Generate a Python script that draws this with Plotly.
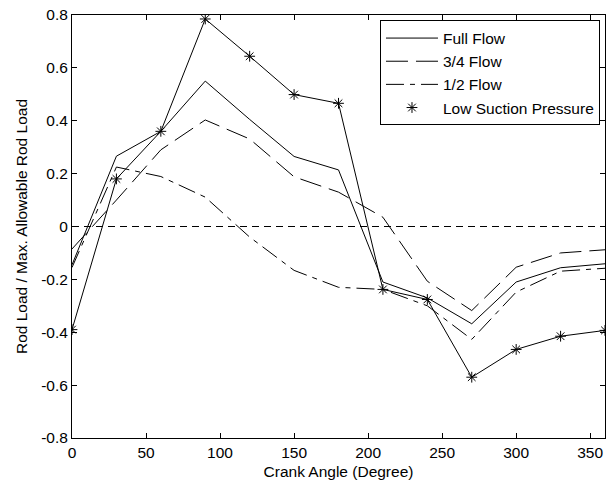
import plotly.graph_objects as go

crank_angle = [0, 30, 60, 90, 120, 150, 180, 210, 240, 270, 300, 330, 360]
full_flow = [-0.145, 0.266, 0.36, 0.55, 0.405, 0.265, 0.214, -0.21, -0.27, -0.368, -0.21, -0.156, -0.141]
three_quarter_flow = [-0.085, 0.10, 0.29, 0.403, 0.331, 0.188, 0.13, 0.035, -0.207, -0.318, -0.154, -0.10, -0.088]
half_flow = [-0.155, 0.225, 0.189, 0.111, -0.04, -0.166, -0.23, -0.238, -0.30, -0.427, -0.248, -0.169, -0.158]
low_suction = [-0.39, 0.18, 0.36, 0.785, 0.644, 0.499, 0.466, -0.238, -0.276, -0.57, -0.465, -0.415, -0.393]

x_ticks = [0, 50, 100, 150, 200, 250, 300, 350]
y_ticks = [-0.8, -0.6, -0.4, -0.2, 0, 0.2, 0.4, 0.6, 0.8]

FONT = "Liberation Sans, Arial, sans-serif"
FS = 15.5

fig = go.Figure()
fig.add_trace(go.Scatter(x=crank_angle, y=full_flow, mode="lines", name="Full Flow",
                         line=dict(color="black", width=1), legendgroup="a"))
fig.add_trace(go.Scatter(x=crank_angle, y=three_quarter_flow, mode="lines", name="3/4 Flow",
                         line=dict(color="black", width=1, dash="22px,8px"), legendgroup="b"))
fig.add_trace(go.Scatter(x=crank_angle, y=half_flow, mode="lines", name="1/2 Flow",
                         line=dict(color="black", width=1, dash="18px,6px,5px,6px"), legendgroup="c"))
fig.add_trace(go.Scatter(x=crank_angle, y=low_suction, mode="lines", showlegend=False,
                         line=dict(color="black", width=1), legendgroup="d"))
fig.add_trace(go.Scatter(x=crank_angle, y=low_suction, mode="markers", name="Low Suction Pressure",
                         marker=dict(symbol="asterisk-open", size=9, color="black",
                                     line=dict(color="black", width=1)), legendgroup="d"))

fig.add_shape(type="line", xref="x", yref="y", x0=0, x1=360, y0=0, y1=0,
              line=dict(color="black", width=1, dash="7px,5px"))

axis_common = dict(showline=True, linecolor="black", linewidth=1, mirror="ticks",
                   ticks="inside", ticklen=5, tickcolor="black", showgrid=False,
                   zeroline=False, tickfont=dict(family=FONT, size=FS, color="black"))

fig.update_xaxes(range=[0, 360], tickvals=x_ticks,
                 title=dict(text="Crank Angle (Degree)", font=dict(family=FONT, size=FS, color="black"), standoff=6),
                 **axis_common)
fig.update_yaxes(range=[-0.8, 0.8], tickvals=y_ticks, ticktext=[("0" if v == 0 else f"{v:.1f}") for v in y_ticks],
                 title=dict(text="Rod Load / Max. Allowable Rod Load", font=dict(family=FONT, size=FS, color="black"), standoff=9),
                 **axis_common)

fig.update_layout(
    width=607, height=482,
    margin=dict(l=72, r=2, t=15, b=44, autoexpand=False),
    paper_bgcolor="white", plot_bgcolor="white",
    font=dict(family=FONT, size=FS, color="black"),
    showlegend=True,
    legend=dict(x=0.9906, xanchor="right", y=0.987, yanchor="top",
                bgcolor="white", bordercolor="black", borderwidth=1,
                font=dict(family=FONT, size=FS, color="black"),
                itemwidth=52,
                tracegroupgap=0, traceorder="normal"),
)

fig.write_html("out.html", config={"displayModeBar": False},
               post_script="document.body.style.margin='0';document.body.style.overflow='hidden';")
